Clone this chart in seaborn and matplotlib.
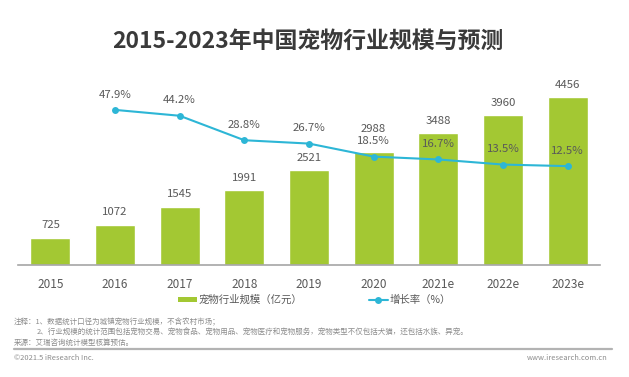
import matplotlib
matplotlib.use("Agg")
import matplotlib.pyplot as plt
import seaborn as sns
import pandas as pd
from matplotlib.lines import Line2D
from matplotlib.patches import Patch

years = ["2015", "2016", "2017", "2018", "2019", "2020", "2021e", "2022e", "2023e"]
scale = [725, 1072, 1545, 1991, 2521, 2988, 3488, 3960, 4456]
growth_years = ["2016", "2017", "2018", "2019", "2020", "2021e", "2022e", "2023e"]
growth = [47.9, 44.2, 28.8, 26.7, 18.5, 16.7, 13.5, 12.5]

bar_color = "#A3C833"
line_color = "#2DB6D6"
text_color = "#595959"

sns.set_theme(style="white")
plt.rcParams["font.family"] = ["Noto Sans CJK SC", "DejaVu Sans"]

df = pd.DataFrame({"year": years, "scale": scale})
gdf = pd.DataFrame({"year": growth_years, "growth": growth})
gdf["pos"] = [years.index(y) for y in growth_years]

fig = plt.figure(figsize=(6.29, 3.77), dpi=100)
ax = fig.add_axes([18 / 629, 1 - 265 / 377, 582 / 629, 185 / 377])

sns.barplot(df, x="year", y="scale", ax=ax, color=bar_color, width=0.62,
            saturation=1, order=years)
ax.set_xlim(-0.5, 8.5)
ax.set_ylim(0, 4900)
ax.set_xlabel("")
ax.set_ylabel("")
ax.set_yticks([])
for side in ["top", "right", "left"]:
    ax.spines[side].set_visible(False)
ax.spines["bottom"].set_color("#A6A6A6")
ax.spines["bottom"].set_linewidth(1.2)
ax.tick_params(axis="x", length=0, pad=9, labelsize=8.5, labelcolor=text_color)

# 2020 value label sits higher so it clears the growth label below it
for i, v in enumerate(scale):
    off = 16.5 if years[i] == "2020" else 8.8
    ax.annotate(str(v), (i, v), xytext=(0, off), textcoords="offset points",
                ha="center", va="center", fontsize=8.2, color=text_color)

ax2 = ax.twinx()
sns.lineplot(gdf, x="pos", y="growth", ax=ax2, color=line_color, linewidth=1.5,
             marker="o", markersize=5, markeredgewidth=0)
ax2.set_ylim(-49.7, 66.7)
ax2.set_xlim(-0.5, 8.5)
ax2.set_yticks([])
ax2.set_xlabel("")
ax2.set_ylabel("")
for side in ["top", "right", "left", "bottom"]:
    ax2.spines[side].set_visible(False)

for p, g in zip(gdf["pos"], growth):
    ax2.annotate(f"{g}%", (p, g), xytext=(0, 11), textcoords="offset points",
                 ha="center", va="center", fontsize=8.2, color=text_color)

fig.text(307.5 / 629, 1 - 41 / 377, "2015-2023年中国宠物行业规模与预测", ha="center",
         va="center", fontsize=16.5, fontweight="bold", color="#3A3A3A")

handles = [
    Patch(facecolor=bar_color, edgecolor="none"),
    Line2D([0], [0], color=line_color, linewidth=1.5, marker="o",
           markersize=5, markeredgewidth=0),
]
fig.legend(handles, ["宠物行业规模（亿元）", "增长率（%）"], loc="center",
           bbox_to_anchor=(0.5, 1 - 300 / 377), ncol=2, frameon=False,
           fontsize=7.5, labelcolor=text_color, handlelength=1.8,
           handleheight=0.45, columnspacing=6.4, handletextpad=0.2)

note_color = "#8C8C8C"
fig.text(14 / 629, 1 - 322 / 377, "注释：1、数据统计口径为城镇宠物行业规模，不含农村市场；",
         fontsize=5.4, color=note_color, va="center")
fig.text(37 / 629, 1 - 332.5 / 377,
         "2、行业规模的统计范围包括宠物交易、宠物食品、宠物用品、宠物医疗和宠物服务，宠物类型不仅包括犬猫，还包括水族、异宠。",
         fontsize=5.4, color=note_color, va="center")
fig.text(14 / 629, 1 - 343 / 377, "来源：艾瑞咨询统计模型核算预估。",
         fontsize=5.4, color=note_color, va="center")
fig.add_artist(Line2D([14 / 629, 612 / 629], [1 - 348.5 / 377, 1 - 348.5 / 377],
                      color="#B3B3B3", linewidth=1.6))
fig.text(14 / 629, 1 - 358 / 377, "©2021.5 iResearch Inc.",
         fontsize=5.4, color=note_color, va="center")
fig.text(608 / 629, 1 - 358 / 377, "www.iresearch.com.cn",
         fontsize=5.4, color=note_color, va="center", ha="right")

fig.savefig("out.png", dpi=100, facecolor="white")
